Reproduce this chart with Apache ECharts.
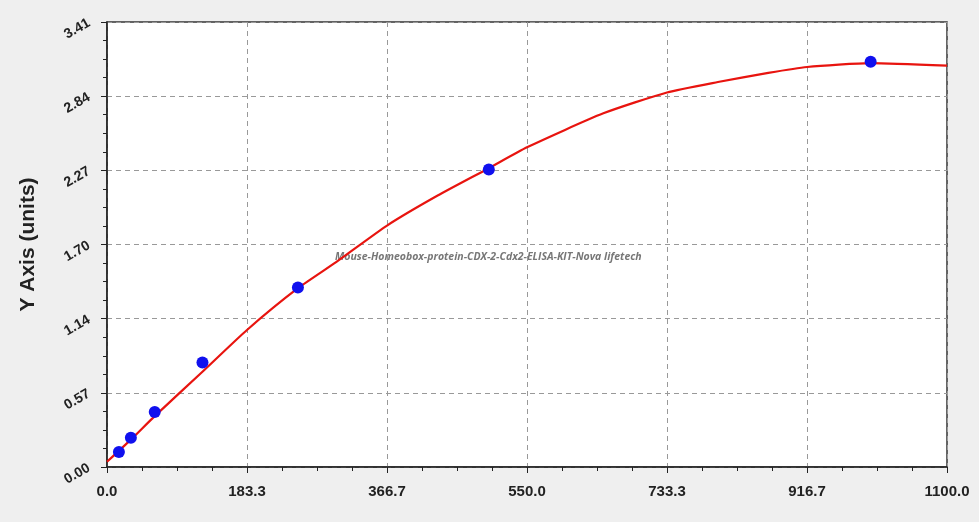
<!DOCTYPE html>
<html>
<head>
<meta charset="utf-8">
<script src="https://cdn.jsdelivr.net/npm/echarts@6/dist/echarts.min.js"></script>
<style>
  html, body { margin: 0; padding: 0; background: #efefef; }
  #chart { width: 979px; height: 522px; }
</style>
</head>
<body>
<div id="chart"></div>
<script>
// standards (concentration, OD)
var stdX = [15.6, 31.25, 62.5, 125, 250, 500, 1000];
var stdY = [0.115, 0.225, 0.422, 0.80, 1.375, 2.28, 3.105];

// fitted curve
var fitX = [0, 31.25, 62.5, 125, 183.3, 250, 300, 366.7, 433, 500, 550, 650, 733.3, 800, 866, 916.7, 1000, 1100];
var fitY = [0.04, 0.21, 0.39, 0.73, 1.05, 1.37, 1.57, 1.85, 2.08, 2.29, 2.45, 2.71, 2.87, 2.95, 3.02, 3.065, 3.095, 3.075];

var xTicks = ['0.0', '183.3', '366.7', '550.0', '733.3', '916.7', '1100.0'];
var yTicks = ['0.00', '0.57', '1.14', '1.70', '2.27', '2.84', '3.41'];

var xMax = 1100, yMax = 3.41;
var xStep = xMax / 6, yStep = yMax / 6;

function pairs(xs, ys) {
    var out = [];
    for (var i = 0; i < xs.length; i++) out.push([xs[i], ys[i]]);
    return out;
}

var chart = echarts.init(document.getElementById('chart'));
var option = {
    backgroundColor: '#efefef',
    animation: false,
    grid: {
        left: 107,
        top: 22,
        right: 32,
        bottom: 55,
        show: true,
        backgroundColor: '#ffffff',
        borderColor: '#333',
        borderWidth: 1.5
    },
    xAxis: {
        type: 'value',
        min: 0,
        max: xMax,
        interval: xStep,
        axisLine: { lineStyle: { color: '#222', width: 1.5 } },
        axisTick: { inside: false, length: 6, lineStyle: { color: '#222' } },
        minorTick: { show: true, splitNumber: 4, length: 4, lineStyle: { color: '#222' } },
        splitLine: { show: true, lineStyle: { color: '#999', type: [5, 4], width: 1 } },
        axisLabel: {
            color: '#222',
            fontWeight: 'bold',
            fontSize: 15,
            fontFamily: 'Arial, Liberation Sans, sans-serif',
            margin: 17,
            formatter: function (v) { return xTicks[Math.round(v / xStep)]; }
        }
    },
    yAxis: {
        type: 'value',
        min: 0,
        max: yMax,
        interval: yStep,
        name: 'Y Axis (units)',
        nameLocation: 'middle',
        nameGap: 68,
        nameRotate: 90,
        nameTextStyle: {
            color: '#222',
            fontWeight: 'bold',
            fontSize: 21,
            fontFamily: 'Arial, Liberation Sans, sans-serif'
        },
        axisLine: { lineStyle: { color: '#222', width: 1.5 } },
        axisTick: { inside: false, length: 6, lineStyle: { color: '#222' } },
        minorTick: { show: true, splitNumber: 4, length: 4, lineStyle: { color: '#222' } },
        splitLine: { show: true, lineStyle: { color: '#999', type: [5, 4], width: 1 } },
        axisLabel: {
            color: '#222',
            fontWeight: 'bold',
            fontSize: 14,
            fontFamily: 'Arial, Liberation Sans, sans-serif',
            rotate: 30,
            margin: 18,
            formatter: function (v) { return yTicks[Math.round(v / yStep)]; }
        }
    },
    graphic: [{
        type: 'text',
        left: 335,
        top: 252,
        style: {
            text: 'Mouse-Homeobox-protein-CDX-2-Cdx2-ELISA-KIT-Nova lifetech',
            fill: '#777',
            font: 'italic bold 10.5px "Open Sans", sans-serif'
        }
    }],
    series: [
        {
            type: 'line',
            data: pairs(fitX, fitY),
            smooth: 0.2,
            showSymbol: false,
            lineStyle: { color: '#e8140f', width: 2.2 },
            z: 2
        },
        {
            type: 'scatter',
            data: pairs(stdX, stdY),
            symbolSize: 12,
            itemStyle: { color: '#1010ee', opacity: 1 },
            z: 3
        }
    ]
};
chart.setOption(option);
</script>
</body>
</html>
